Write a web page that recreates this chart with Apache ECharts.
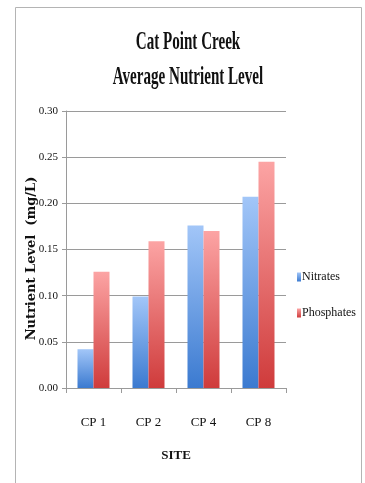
<!DOCTYPE html>
<html>
<head>
<meta charset="utf-8">
<script src="https://cdn.jsdelivr.net/npm/echarts@6/dist/echarts.min.js"></script>
<style>
  html, body { margin: 0; padding: 0; background: #fff; }
  #chart { width: 365px; height: 483px; }
</style>
</head>
<body>
<div id="chart"></div>
<script>
// Average nutrient level per sampling site, Cat Point Creek
const sites = ['CP 1', 'CP 2', 'CP 4', 'CP 8'];
const nitrates = [0.042, 0.099, 0.176, 0.207];
const phosphates = [0.126, 0.159, 0.170, 0.245];
const yTicks = [0, 0.05, 0.10, 0.15, 0.20, 0.25, 0.30];

const serif = 'Liberation Serif';

function grad(top, bottom) {
  return new echarts.graphic.LinearGradient(0, 0, 0, 1, [
    { offset: 0, color: top },
    { offset: 1, color: bottom }
  ]);
}

const chart = echarts.init(document.getElementById('chart'), null, { renderer: 'canvas' });

chart.setOption({
  backgroundColor: '#ffffff',
  animation: false,
  graphic: [
    {
      type: 'rect',
      shape: { x: 15.5, y: 7.5, width: 346, height: 490 },
      style: { fill: 'none', stroke: '#b4b4b4', lineWidth: 1 },
      silent: true
    },
    {
      type: 'text',
      x: 188, y: 42, scaleX: 0.58,
      style: {
        text: 'Cat Point Creek', font: 'bold 26px "Liberation Serif"',
        fill: '#111', textAlign: 'center', textVerticalAlign: 'middle'
      }
    },
    {
      type: 'text',
      x: 188, y: 77, scaleX: 0.58,
      style: {
        text: 'Average Nutrient Level', font: 'bold 26px "Liberation Serif"',
        fill: '#111', textAlign: 'center', textVerticalAlign: 'middle'
      }
    }
  ],
  grid: { left: 66, right: 79, top: 111, bottom: 95, containLabel: false },
  legend: {
    orient: 'vertical',
    left: 292,
    top: 266,
    itemWidth: 4,
    itemHeight: 9,
    itemGap: 24,
    icon: 'rect',
    textStyle: { fontFamily: serif, fontSize: 12, color: '#111', padding: [0, 0, 0, -4] },
    data: ['Nitrates', 'Phosphates']
  },
  xAxis: {
    type: 'category',
    data: sites,
    name: 'SITE',
    nameLocation: 'middle',
    nameGap: 61,
    nameTextStyle: { fontFamily: serif, fontWeight: 'bold', fontSize: 13, color: '#111' },
    axisLine: { lineStyle: { color: '#9a9a9a' } },
    axisTick: { show: true, length: 5, lineStyle: { color: '#9a9a9a' } },
    axisLabel: { fontFamily: serif, fontSize: 13, color: '#111', margin: 28 }
  },
  yAxis: {
    type: 'value',
    min: 0,
    max: 0.3,
    interval: 0.05,
    name: 'Nutrient Level  (mg/L)',
    nameLocation: 'middle',
    nameRotate: 90,
    nameGap: 28,
    nameMoveOverlap: false,
    nameTextStyle: {
      fontFamily: 'DejaVu Serif', fontWeight: 'bold', fontSize: 13, color: '#111',
      padding: [0, 18, 0, 0]
    },
    axisLine: { show: true, lineStyle: { color: '#9a9a9a' } },
    axisTick: { show: true, length: 4, lineStyle: { color: '#9a9a9a' } },
    splitLine: { lineStyle: { color: '#9a9a9a' } },
    axisLabel: {
      fontFamily: serif, fontSize: 11, color: '#111', margin: 8,
      formatter: v => {
        const t = yTicks.find(x => Math.abs(x - v) < 1e-9);
        return (t !== undefined ? t : v).toFixed(2);
      }
    }
  },
  series: [
    {
      name: 'Nitrates',
      type: 'bar',
      data: nitrates,
      barWidth: 16,
      barGap: '0%',
      itemStyle: { color: grad('#a2c6f8', '#3b7ad0') }
    },
    {
      name: 'Phosphates',
      type: 'bar',
      data: phosphates,
      barWidth: 16,
      itemStyle: { color: grad('#fca4a4', '#cf3b3b') }
    }
  ]
});
</script>
</body>
</html>
